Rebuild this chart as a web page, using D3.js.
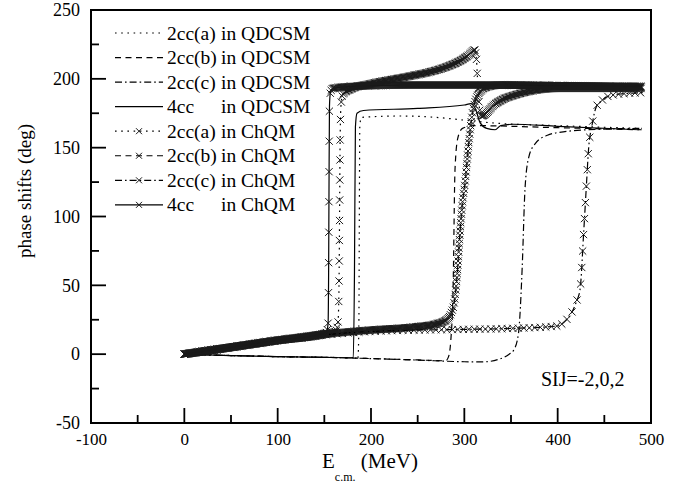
<!DOCTYPE html>
<html>
<head>
<meta charset="utf-8">
<script src="https://cdn.jsdelivr.net/npm/d3@7"></script>
<style>
  body { margin: 0; background: #fff; }
  svg text { font-family: "Liberation Serif", "Times New Roman", Times, serif; fill: #000; }
</style>
</head>
<body>
<div id="chart"></div>
<script>
// tick values
const xTicks = [-100, 0, 100, 200, 300, 400, 500];
const yTicks = [-50, 0, 50, 100, 150, 200, 250];

// legend labels
const caseNames = ["2cc(a)", "2cc(b)", "2cc(c)", "4cc"];
const models = ["QDCSM", "ChQM"];

// [E c.m. (MeV), phase shift (deg)]
const qdcsmA = [[0,0],[50,-1],[100,-1.8],[150,-2.3],[186,-2.6],[187,20],[187.5,100],[188,165],[189.5,172],[230,173],[270,172],[300,170],[330,168],[400,166],[490,164]];
const qdcsmB = [[0,0],[50,-1],[100,-1.8],[150,-2.3],[200,-3.2],[250,-4.2],[280,-4.8],[283,-2],[285.5,10],[288,49],[290,134],[293,157],[298,164],[310,166],[400,164.5],[490,163]];
const qdcsmC = [[0,0],[50,-1],[100,-1.8],[150,-2.3],[200,-3.2],[250,-4.3],[300,-5.5],[320,-5.6],[338,-3.5],[348,0],[353,3],[358,15],[362,63],[365,120],[369,143],[376,153],[389,159],[406,161.5],[450,163.5],[490,164]];
const qdcsm4cc = [[0,0],[50,-1],[100,-1.8],[150,-2.3],[181,-2.6],[182.3,60],[183.3,165],[185,175],[192,177],[250,178.5],[300,181],[307,182],[312,178],[317,168],[324,164],[333,163],[339,166],[352,167],[400,165.5],[487,163]];

const chqmA = [[0,0],[50,5],[100,10],[150,14.5],[162,16.5],[164.5,22],[165.5,40],[166,70],[166.5,120],[167,160],[168,182],[170,189],[180,193],[200,196.5],[242,202],[263,205],[282,209],[299,214.5],[306,218],[311,221],[313,214],[314.5,195],[316,180],[318,173],[322,174],[330,180],[341,185],[353,188],[370,191],[400,193],[490,193]];
const chqmB = [[0,0],[50,5],[100,10],[150,14.5],[200,17.5],[250,20],[270,22],[281,25],[286,30],[289,37],[292,55],[295,85],[298,110],[301,126],[304.7,153],[308,172],[313.5,187],[324,194],[340,195.5],[400,195],[490,194]];
const chqmC = [[0,0],[50,5],[100,10],[150,14],[200,16.5],[250,17.5],[300,18],[350,18.7],[400,20.5],[408,24],[414,29],[420,38],[424,47],[428,90],[431,125],[433,148],[437,167],[441,179],[447,184],[453,187],[467,189],[494,190]];
const chqm4cc = [[0,0],[50,5],[100,10],[140,13.5],[152,15.5],[154,22],[154.6,60],[155,120],[155.5,180],[156.5,190],[159,193],[180,194.5],[250,195.5],[320,195.5],[400,195],[490,194.5]];

const width = 689, height = 489;
const mLeft = 91, mRight = 651, mTop = 10, mBottom = 423;
const serif = "'Liberation Serif', 'Times New Roman', Times, serif";

const x = d3.scaleLinear().domain([-100, 500]).range([mLeft, mRight]);
const y = d3.scaleLinear().domain([-50, 250]).range([mBottom, mTop]);

const dashes = ["1.6,4.6", "6,4.5", "7,3,1.6,3", null];

const series = [
  { data: qdcsmA, dash: dashes[0], marks: false },
  { data: qdcsmB, dash: dashes[1], marks: false },
  { data: qdcsmC, dash: dashes[2], marks: false },
  { data: qdcsm4cc, dash: dashes[3], marks: false },
  { data: chqmA, dash: dashes[0], marks: true, stepX: 0.8, stepL: 20 },
  { data: chqmB, dash: dashes[1], marks: true, stepX: 0.8, stepL: 4 },
  { data: chqmC, dash: dashes[2], marks: true, stepX: 5, stepL: 16 },
  { data: chqm4cc, dash: dashes[3], marks: true, stepX: 0.8, stepL: 30 }
];

const svg = d3.select("#chart").append("svg")
  .attr("width", width)
  .attr("height", height)
  .attr("font-family", serif);

// ticks inside the frame, left and bottom only
const yAxis = d3.axisLeft(y).tickValues(yTicks).tickSize(0).tickPadding(11).tickFormat(d => String(d));
const xAxis = d3.axisBottom(x).tickValues(xTicks).tickSize(0).tickPadding(10).tickFormat(d => String(d));

svg.append("g")
  .attr("transform", "translate(" + mLeft + ",0)")
  .call(yAxis)
  .attr("font-family", serif)
  .call(g => g.select(".domain").remove())
  .call(g => g.selectAll("text").attr("font-size", 18));

svg.append("g")
  .attr("transform", "translate(0," + mBottom + ")")
  .call(xAxis)
  .attr("font-family", serif)
  .call(g => g.select(".domain").remove())
  .call(g => g.selectAll("text").attr("font-size", 17));

const yMinor = d3.range(-50, 251, 25);
const xMinor = d3.range(-100, 501, 50);

svg.append("g").selectAll("line")
  .data(yMinor)
  .enter().append("line")
  .attr("x1", mLeft)
  .attr("x2", d => mLeft + (d % 50 === 0 ? 15 : 8))
  .attr("y1", d => y(d))
  .attr("y2", d => y(d))
  .attr("stroke", "#000")
  .attr("stroke-width", 1.8);

svg.append("g").selectAll("line")
  .data(xMinor)
  .enter().append("line")
  .attr("x1", d => x(d))
  .attr("x2", d => x(d))
  .attr("y1", mBottom)
  .attr("y2", d => mBottom - (d % 100 === 0 ? 15 : 8))
  .attr("stroke", "#000")
  .attr("stroke-width", 1.8);

svg.append("rect")
  .attr("x", mLeft)
  .attr("y", mTop)
  .attr("width", mRight - mLeft)
  .attr("height", mBottom - mTop)
  .attr("fill", "none")
  .attr("stroke", "#000")
  .attr("stroke-width", 2);

const line = d3.line()
  .x(d => x(d[0]))
  .y(d => y(d[1]))
  .curve(d3.curveMonotoneX);

// x marks follow the drawn curve: dense where E moves, sparse on the steep jumps
function markPoints(node, stepX, stepL) {
  const total = node.getTotalLength();
  let last = node.getPointAtLength(0), prev = last, acc = 0;
  const pts = [last];
  for (let l = 0.5; l <= total; l += 0.5) {
    const p = node.getPointAtLength(l);
    acc += Math.hypot(p.x - prev.x, p.y - prev.y);
    prev = p;
    if (Math.abs(p.x - last.x) >= stepX || acc >= stepL) {
      pts.push(p);
      last = p;
      acc = 0;
    }
  }
  return pts;
}

function cross(g, pts, r) {
  g.selectAll("path.mk")
    .data(pts)
    .enter().append("path")
    .attr("class", "mk")
    .attr("d", p => "M" + (p.x - r) + "," + (p.y - r) + "L" + (p.x + r) + "," + (p.y + r) +
                    "M" + (p.x - r) + "," + (p.y + r) + "L" + (p.x + r) + "," + (p.y - r))
    .attr("stroke", "#1a1a1a")
    .attr("stroke-width", 1)
    .attr("fill", "none");
}

const plot = svg.append("g");

series.forEach(s => {
  const g = plot.append("g");
  const p = g.append("path")
    .attr("d", line(s.data))
    .attr("fill", "none")
    .attr("stroke", "#000")
    .attr("stroke-width", 1.2)
    .attr("stroke-dasharray", s.dash);
  if (s.marks) cross(g, markPoints(p.node(), s.stepX, s.stepL), 3.6);
});

// legend
const legend = svg.append("g");
const rows = [];
models.forEach(m => caseNames.forEach((c, i) => rows.push({ name: c, model: m, dash: dashes[i] })));

rows.forEach((r, i) => {
  const cy = 33 + i * 24.55;
  legend.append("line")
    .attr("x1", 115).attr("x2", 163)
    .attr("y1", cy).attr("y2", cy)
    .attr("stroke", "#000")
    .attr("stroke-width", 1.2)
    .attr("stroke-dasharray", r.dash);
  if (r.model === "ChQM") cross(legend.append("g"), [{ x: 139, y: cy }], 3);
  legend.append("text")
    .attr("x", 167).attr("y", cy + 6.5)
    .attr("font-size", 19.5)
    .text(r.name);
  legend.append("text")
    .attr("x", 221).attr("y", cy + 6.5)
    .attr("font-size", 19.5)
    .text("in " + r.model);
});

svg.append("text")
  .attr("x", 541).attr("y", 385.5)
  .attr("font-size", 20)
  .text("SIJ=-2,0,2");

// axis titles
svg.append("text")
  .attr("transform", "translate(31,191) rotate(-90)")
  .attr("text-anchor", "middle")
  .attr("font-size", 19)
  .text("phase shifts (deg)");

const xt = svg.append("text")
  .attr("x", 322).attr("y", 468)
  .attr("font-size", 21);
xt.append("tspan").text("E");
xt.append("tspan").attr("font-size", 12).attr("dy", 13).text("c.m.");
xt.append("tspan").attr("dy", -13).text(" (MeV)");
</script>
</body>
</html>
